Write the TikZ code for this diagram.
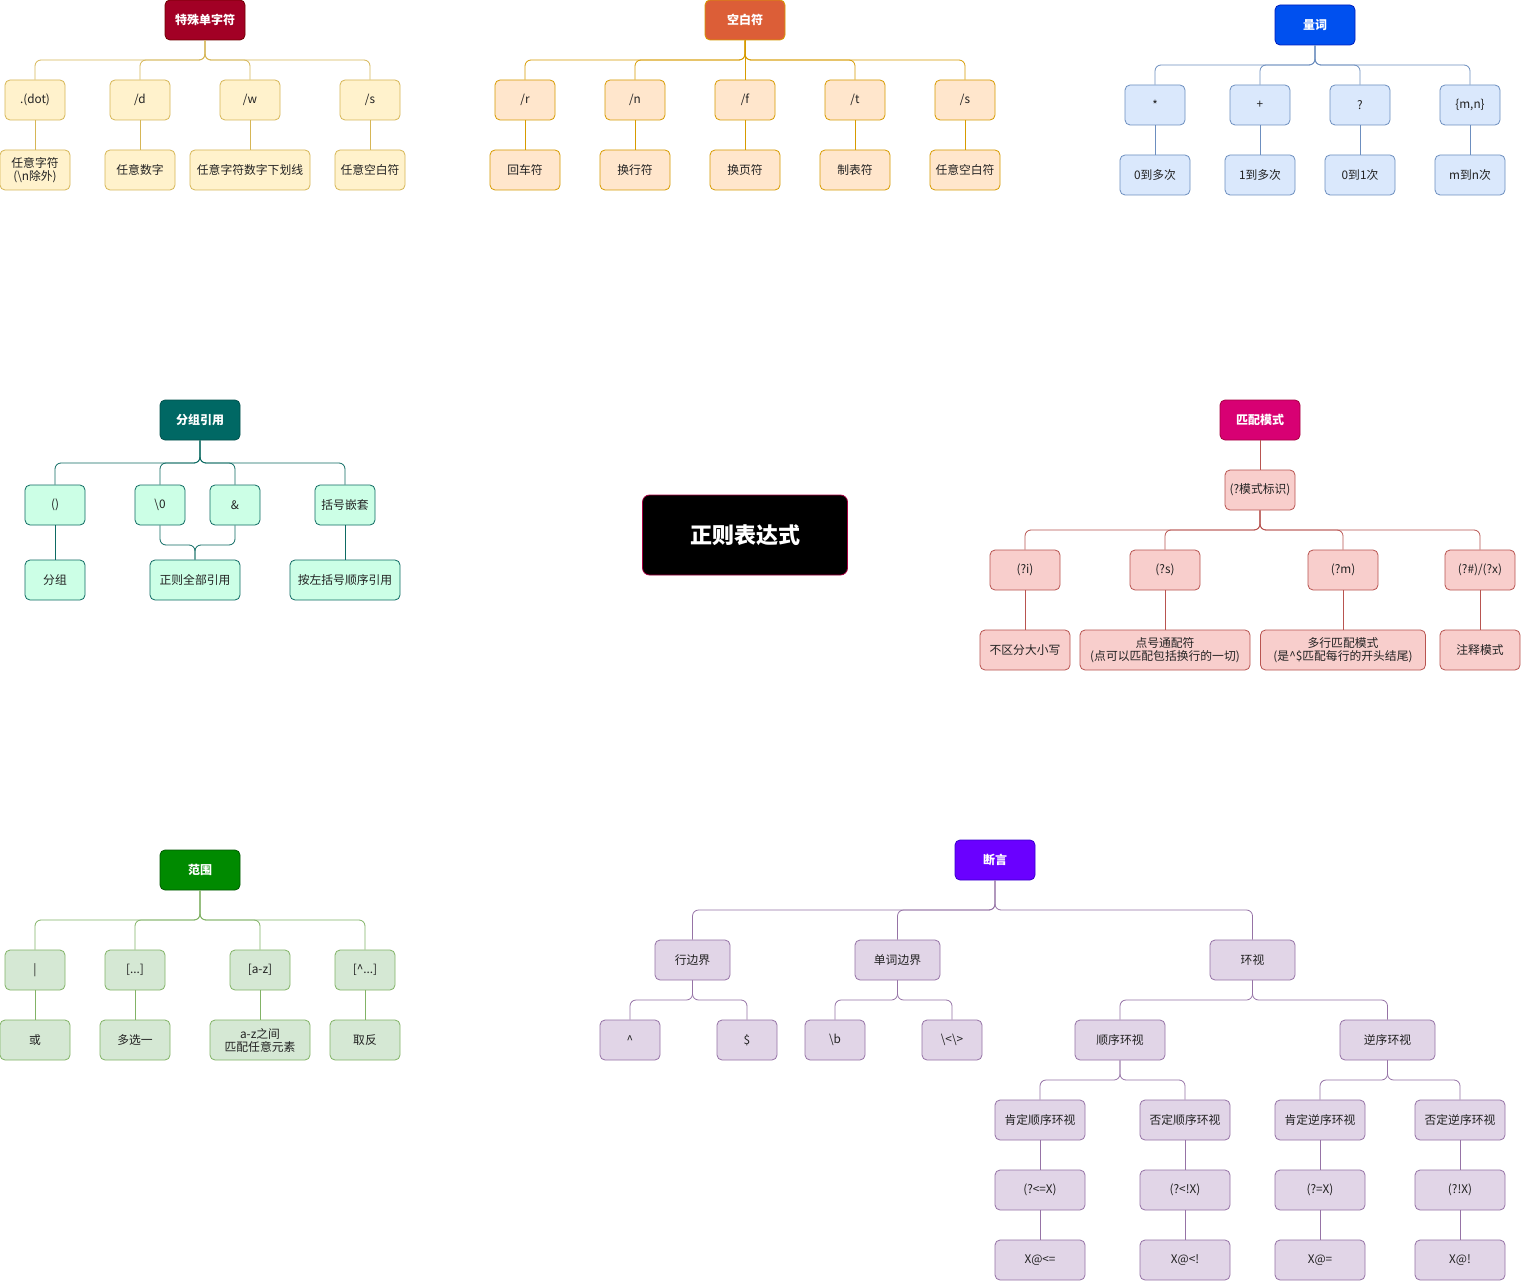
\documentclass[tikz,border=0pt]{standalone}
\usepackage{fontspec}
\setmainfont{Noto Sans CJK SC}
\definecolor{yelF}{HTML}{FFF2CC}\definecolor{yelD}{HTML}{D6B656}
\definecolor{orgF}{HTML}{FFE6CC}\definecolor{orgD}{HTML}{D79B00}
\definecolor{bluF}{HTML}{DAE8FC}\definecolor{bluD}{HTML}{6C8EBF}
\definecolor{mntF}{HTML}{CCFFE6}\definecolor{mntD}{HTML}{0E6B63}
\definecolor{redF}{HTML}{F8CECC}\definecolor{redD}{HTML}{B85450}
\definecolor{grnF}{HTML}{D5E8D4}\definecolor{grnD}{HTML}{82B366}
\definecolor{purF}{HTML}{E1D5E7}\definecolor{purD}{HTML}{9673A6}
\definecolor{txt}{HTML}{222222}
\newcommand\branch[4]{\draw[#1] (#2.south) -- (#2.south |- #4) -- (#3.north |- #4) -- (#3.north);}
\begin{document}
\begin{tikzpicture}[x=1pt,y=-1pt,
  sz/.style 2 args={minimum width=#1pt, minimum height=#2pt},
  box/.style={rectangle, rounded corners=5pt, draw, line width=0.8pt, inner sep=1pt,
    align=center, font=\fontsize{11.8}{13}\selectfont, text=txt},
  title/.style={box, font=\bfseries\fontsize{12}{13.5}\selectfont, text=white},
  c1/.style={box, fill=yelF, draw=yelD}, e1/.style={draw=yelD, line width=0.8pt, rounded corners=6pt},
  c2/.style={box, fill=orgF, draw=orgD}, e2/.style={draw=orgD, line width=0.8pt, rounded corners=6pt},
  c3/.style={box, fill=bluF, draw=bluD}, e3/.style={draw=bluD, line width=0.8pt, rounded corners=6pt},
  c4/.style={box, fill=mntF, draw=mntD}, e4/.style={draw=mntD, line width=0.8pt, rounded corners=6pt},
  c5/.style={box, fill=redF, draw=redD}, e5/.style={draw=redD, line width=0.8pt, rounded corners=6pt},
  c6/.style={box, fill=grnF, draw=grnD}, e6/.style={draw=grnD, line width=0.8pt, rounded corners=6pt},
  c7/.style={box, fill=purF, draw=purD}, e7/.style={draw=purD, line width=0.8pt, rounded corners=6pt},
]
\useasboundingbox[fill=white] (0,0) rectangle (1521,1281);

% ---------- 特殊单字符 ----------
\coordinate (m1) at (0,60);
\node[title, fill={rgb,255:red,162;green,0;blue,37}, draw={rgb,255:red,111;green,0;blue,0}, sz={80}{40}] (a0) at (205,20) {特殊单字符};
\node[c1, sz={60}{40}] (a1) at (35,100) {.(dot)};
\node[c1, sz={60}{40}] (a2) at (140,100) {/d};
\node[c1, sz={60}{40}] (a3) at (250,100) {/w};
\node[c1, sz={60}{40}] (a4) at (370,100) {/s};
\node[c1, sz={70}{40}] (a5) at (35,170) {任意字符\\(\textbackslash n除外)};
\node[c1, sz={70}{40}] (a6) at (140,170) {任意数字};
\node[c1, sz={120}{40}] (a7) at (250,170) {任意字符数字下划线};
\node[c1, sz={70}{40}] (a8) at (370,170) {任意空白符};
\foreach \c in {a1,a2,a3,a4}{\branch{e1}{a0}{\c}{m1}}
\draw[e1] (a1) -- (a5); \draw[e1] (a2) -- (a6); \draw[e1] (a3) -- (a7); \draw[e1] (a4) -- (a8);

% ---------- 空白符 ----------
\coordinate (m2) at (0,60);
\node[title, fill={rgb,255:red,220;green,94;blue,55}, draw=orgD, sz={80}{40}] (b0) at (745,20) {空白符};
\node[c2, sz={60}{40}] (b1) at (525,100) {/r};
\node[c2, sz={60}{40}] (b2) at (635,100) {/n};
\node[c2, sz={60}{40}] (b3) at (745,100) {/f};
\node[c2, sz={60}{40}] (b4) at (855,100) {/t};
\node[c2, sz={60}{40}] (b5) at (965,100) {/s};
\node[c2, sz={70}{40}] (b6) at (525,170) {回车符};
\node[c2, sz={70}{40}] (b7) at (635,170) {换行符};
\node[c2, sz={70}{40}] (b8) at (745,170) {换页符};
\node[c2, sz={70}{40}] (b9) at (855,170) {制表符};
\node[c2, sz={70}{40}] (b10) at (965,170) {任意空白符};
\foreach \c in {b1,b2,b4,b5}{\branch{e2}{b0}{\c}{m2}}
\draw[e2] (b0) -- (b3);
\draw[e2] (b1) -- (b6); \draw[e2] (b2) -- (b7); \draw[e2] (b3) -- (b8);
\draw[e2] (b4) -- (b9); \draw[e2] (b5) -- (b10);

% ---------- 量词 ----------
\coordinate (m3) at (0,65);
\node[title, fill={rgb,255:red,0;green,80;blue,239}, draw={rgb,255:red,0;green,29;blue,188}, sz={80}{40}] (q0) at (1315,25) {量词};
\node[c3, sz={60}{40}] (q1) at (1155,105) {*};
\node[c3, sz={60}{40}] (q2) at (1260,105) {+};
\node[c3, sz={60}{40}] (q3) at (1360,105) {?};
\node[c3, sz={60}{40}] (q4) at (1470,105) {\{m,n\}};
\node[c3, sz={70}{40}] (q5) at (1155,175) {0到多次};
\node[c3, sz={70}{40}] (q6) at (1260,175) {1到多次};
\node[c3, sz={70}{40}] (q7) at (1360,175) {0到1次};
\node[c3, sz={70}{40}] (q8) at (1470,175) {m到n次};
\foreach \c in {q1,q2,q3,q4}{\branch{e3}{q0}{\c}{m3}}
\draw[e3] (q1) -- (q5); \draw[e3] (q2) -- (q6); \draw[e3] (q3) -- (q7); \draw[e3] (q4) -- (q8);

% ---------- 分组引用 ----------
\coordinate (m4) at (0,463);
\coordinate (m4b) at (0,545);
\node[title, fill={rgb,255:red,0;green,104;blue,100}, draw={rgb,255:red,0;green,80;blue,76}, sz={80}{40}] (g0) at (200,420) {分组引用};
\node[c4, sz={60}{40}] (g1) at (55,505) {()};
\node[c4, sz={50}{40}] (g2) at (160,505) {\textbackslash 0};
\node[c4, sz={50}{40}] (g3) at (235,505) {\&};
\node[c4, sz={60}{40}] (g4) at (345,505) {括号嵌套};
\node[c4, sz={60}{40}] (g5) at (55,580) {分组};
\node[c4, sz={90}{40}] (g6) at (195,580) {正则全部引用};
\node[c4, sz={110}{40}] (g7) at (345,580) {按左括号顺序引用};
\foreach \c in {g1,g2,g3,g4}{\branch{e4}{g0}{\c}{m4}}
\draw[e4] (g1) -- (g5);
\draw[e4] (g2.south) -- (g2.south |- m4b) -- (g6.north |- m4b) -- (g6.north);
\draw[e4] (g3.south) -- (g3.south |- m4b) -- (g6.north |- m4b) -- (g6.north);
\draw[e4] (g4) -- (g7);

% ---------- 正则表达式 ----------
\node[rectangle, rounded corners=7pt, fill=black, draw={rgb,255:red,165;green,0;blue,64}, line width=0.8pt,
  sz={205}{80}, text=white, font=\bfseries\fontsize{22}{25}\selectfont] (root) at (745,535) {正则表达式};

% ---------- 匹配模式 ----------
\coordinate (m5) at (0,530);
\node[title, fill={rgb,255:red,216;green,0;blue,115}, draw={rgb,255:red,165;green,0;blue,64}, sz={80}{40}] (p0) at (1260,420) {匹配模式};
\node[c5, sz={70}{40}] (pm) at (1260,490) {(?模式标识)};
\node[c5, sz={70}{40}] (p1) at (1025,570) {(?i)};
\node[c5, sz={70}{40}] (p2) at (1165,570) {(?s)};
\node[c5, sz={70}{40}] (p3) at (1343,570) {(?m)};
\node[c5, sz={70}{40}] (p4) at (1480,570) {(?\#)/(?x)};
\node[c5, sz={90}{40}] (p5) at (1025,650) {不区分大小写};
\node[c5, sz={170}{40}] (p6) at (1165,650) {点号通配符\\(点可以匹配包括换行的一切)};
\node[c5, sz={165}{40}] (p7) at (1343,650) {多行匹配模式\\(是\^{}\$匹配每行的开头结尾)};
\node[c5, sz={80}{40}] (p8) at (1480,650) {注释模式};
\draw[e5] (p0) -- (pm);
\foreach \c in {p1,p2,p3,p4}{\branch{e5}{pm}{\c}{m5}}
\draw[e5] (p1) -- (p5); \draw[e5] (p2) -- (p6); \draw[e5] (p3) -- (p7); \draw[e5] (p4) -- (p8);

% ---------- 范围 ----------
\coordinate (m6) at (0,920);
\node[title, fill={rgb,255:red,0;green,138;blue,0}, draw={rgb,255:red,0;green,87;blue,0}, sz={80}{40}] (r0) at (200,870) {范围};
\node[c6, sz={60}{40}] (r1) at (35,970) {|};
\node[c6, sz={60}{40}] (r2) at (135,970) {[...]};
\node[c6, sz={60}{40}] (r3) at (260,970) {[a-z]};
\node[c6, sz={60}{40}] (r4) at (365,970) {[\^{}...]};
\node[c6, sz={70}{40}] (r5) at (35,1040) {或};
\node[c6, sz={70}{40}] (r6) at (135,1040) {多选一};
\node[c6, sz={100}{40}] (r7) at (260,1040) {a-z之间\\匹配任意元素};
\node[c6, sz={70}{40}] (r8) at (365,1040) {取反};
\foreach \c in {r1,r2,r3,r4}{\branch{e6}{r0}{\c}{m6}}
\draw[e6] (r1) -- (r5); \draw[e6] (r2) -- (r6); \draw[e6] (r3) -- (r7); \draw[e6] (r4) -- (r8);

% ---------- 断言 ----------
\coordinate (m7) at (0,910);
\coordinate (m7b) at (0,1000);
\coordinate (m7c) at (0,1080);
\node[title, fill={rgb,255:red,106;green,0;blue,255}, draw={rgb,255:red,55;green,0;blue,204}, sz={80}{40}] (s0) at (995,860) {断言};
\node[c7, sz={75}{40}] (s1) at (692.5,960) {行边界};
\node[c7, sz={85}{40}] (s2) at (897.5,960) {单词边界};
\node[c7, sz={85}{40}] (s3) at (1252.5,960) {环视};
\node[c7, sz={60}{40}] (s4) at (630,1040) {\^{}};
\node[c7, sz={60}{40}] (s5) at (747,1040) {\$};
\node[c7, sz={60}{40}] (s6) at (835,1040) {\textbackslash b};
\node[c7, sz={60}{40}] (s7) at (952,1040) {\textbackslash <\textbackslash >};
\node[c7, sz={90}{40}] (s8) at (1120,1040) {顺序环视};
\node[c7, sz={95}{40}] (s9) at (1387.5,1040) {逆序环视};
\node[c7, sz={90}{40}] (t1) at (1040,1120) {肯定顺序环视};
\node[c7, sz={90}{40}] (t2) at (1185,1120) {否定顺序环视};
\node[c7, sz={90}{40}] (t3) at (1320,1120) {肯定逆序环视};
\node[c7, sz={90}{40}] (t4) at (1460,1120) {否定逆序环视};
\node[c7, sz={90}{40}] (u1) at (1040,1190) {(?<=X)};
\node[c7, sz={90}{40}] (u2) at (1185,1190) {(?<!X)};
\node[c7, sz={90}{40}] (u3) at (1320,1190) {(?=X)};
\node[c7, sz={90}{40}] (u4) at (1460,1190) {(?!X)};
\node[c7, sz={90}{40}] (v1) at (1040,1260) {X@<=};
\node[c7, sz={90}{40}] (v2) at (1185,1260) {X@<!};
\node[c7, sz={90}{40}] (v3) at (1320,1260) {X@=};
\node[c7, sz={90}{40}] (v4) at (1460,1260) {X@!};
\foreach \c in {s1,s2,s3}{\branch{e7}{s0}{\c}{m7}}
\branch{e7}{s1}{s4}{m7b}\branch{e7}{s1}{s5}{m7b}
\branch{e7}{s2}{s6}{m7b}\branch{e7}{s2}{s7}{m7b}
\branch{e7}{s3}{s8}{m7b}\branch{e7}{s3}{s9}{m7b}
\branch{e7}{s8}{t1}{m7c}\branch{e7}{s8}{t2}{m7c}
\branch{e7}{s9}{t3}{m7c}\branch{e7}{s9}{t4}{m7c}
\draw[e7] (t1) -- (u1); \draw[e7] (t2) -- (u2); \draw[e7] (t3) -- (u3); \draw[e7] (t4) -- (u4);
\draw[e7] (u1) -- (v1); \draw[e7] (u2) -- (v2); \draw[e7] (u3) -- (v3); \draw[e7] (u4) -- (v4);
\end{tikzpicture}
\end{document}
